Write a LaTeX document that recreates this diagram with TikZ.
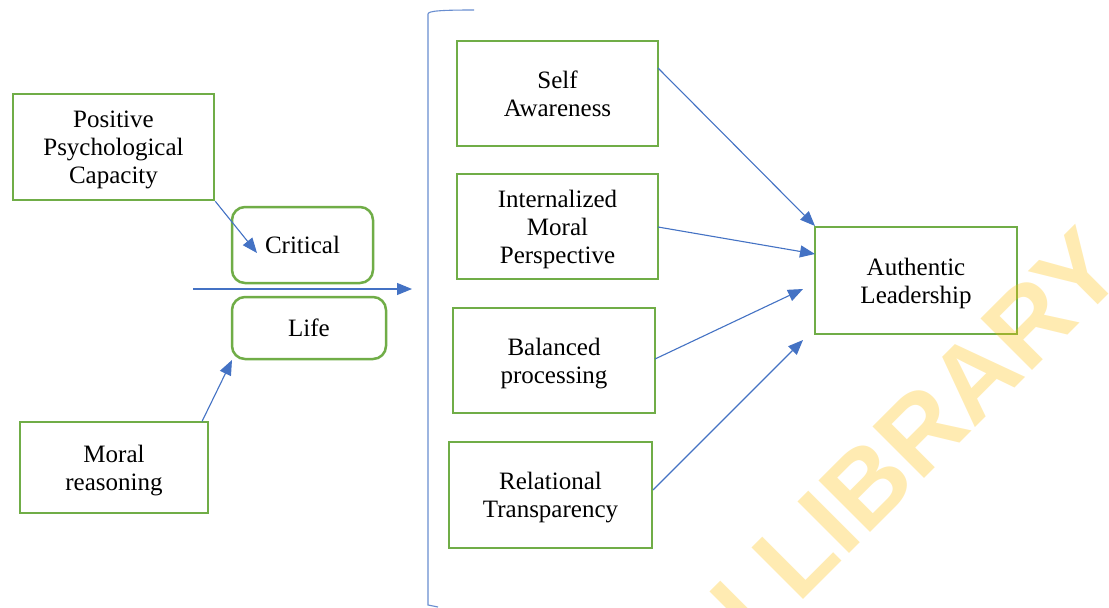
\documentclass[tikz,border=0pt]{standalone}
\usepackage{fontspec}
\setmainfont{Liberation Serif}
\newfontfamily\wmfont{Liberation Sans}
\usetikzlibrary{arrows.meta}
\definecolor{boxgreen}{HTML}{70AD47}
\definecolor{arrblue}{HTML}{4472C4}
\definecolor{wmyellow}{HTML}{FFC000}
\newcommand\lnstrut{\rule[-5.4pt]{0pt}{28pt}}
\tikzset{
  box/.style={draw=boxgreen, line width=2.5pt, align=center, inner sep=0pt,
    font=\fontsize{25}{28}\selectfont},
  rbox/.style={box, rounded corners=13pt},
  conn/.style={draw=arrblue, line width=1.1pt, -{Triangle[length=15pt,width=12pt]}},
  wm/.style={text=wmyellow, text opacity=0.3, inner sep=0pt, rotate=45,
    font=\wmfont\bfseries\fontsize{106}{106}\selectfont}
}
\begin{document}
\begin{tikzpicture}[x=1pt,y=-1pt]
\useasboundingbox (0,0) rectangle (1109,608);
\clip (0,0) rectangle (1109,608);
\fill[white] (0,0) rectangle (1109,608);
% left side
\node[box, minimum width=201pt, minimum height=106pt] (ppc) at (113.5,147) {\lnstrut Positive\\\lnstrut Psychological\\\lnstrut Capacity};
\node[rbox, minimum width=141pt, minimum height=76pt] (crit) at (302.5,245) {\lnstrut Critical};
\node[rbox, minimum width=154pt, minimum height=62pt] (life) at (309,328) {\lnstrut Life};
\node[box, minimum width=188pt, minimum height=91pt] (moral) at (114,467.5) {\lnstrut Moral\\\lnstrut reasoning};
% middle
\node[box, minimum width=201pt, minimum height=105pt] (self) at (557.5,93.5) {\lnstrut Self\\\lnstrut Awareness};
\node[box, minimum width=201pt, minimum height=105pt] (imp) at (557.5,226.5) {\lnstrut Internalized\\\lnstrut Moral\\\lnstrut Perspective};
\node[box, minimum width=202pt, minimum height=105pt] (bp) at (554,360.5) {\lnstrut Balanced\\\lnstrut processing};
\node[box, minimum width=203pt, minimum height=106pt] (rt) at (550.5,495) {\lnstrut Relational\\\lnstrut Transparency};
% right
\node[box, minimum width=202pt, minimum height=107pt] (al) at (916,280.5) {\lnstrut Authentic\\\lnstrut Leadership};
% coordinates
\coordinate (critTip) at (257,253);
\coordinate (moralOut) at (202,421.5);
\coordinate (lifeTip) at (232,360);
\coordinate (hStart) at (193,289);
\coordinate (hEnd) at (412,289);
\coordinate (selfOut) at (658,68);
\coordinate (tipA) at (815,226);
\coordinate (impOut) at (658,227);
\coordinate (tipB) at (815,254);
\coordinate (bpOut) at (655,359);
\coordinate (tipC) at (803,289);
\coordinate (rtOut) at (653,490);
\coordinate (tipD) at (803,340);
\coordinate (brTop) at (474,10);
\coordinate (brCorner) at (428,14);
\coordinate (brBottom) at (428,605);
\coordinate (brEnd) at (438,607);
% connectors
\draw[conn] (ppc.south east) -- (critTip);
\draw[conn] (moralOut) -- (lifeTip);
\draw[conn] (hStart) -- (hEnd);
\draw[conn] (selfOut) -- (tipA);
\draw[conn] (impOut) -- (tipB);
\draw[conn] (bpOut) -- (tipC);
\draw[conn] (rtOut) -- (tipD);
% bracket
\draw[arrblue!80, line width=1.1pt] (brTop) .. controls (440,10) and (428,11) .. (brCorner) -- (brBottom) -- (brEnd);
% watermark
\node[wm, anchor=base west] (wmA) at (798.5,604.5) {LIBRARY};
\node[wm, anchor=base east] (wmB) at (777.4,627.4) {I};
\end{tikzpicture}
\end{document}
